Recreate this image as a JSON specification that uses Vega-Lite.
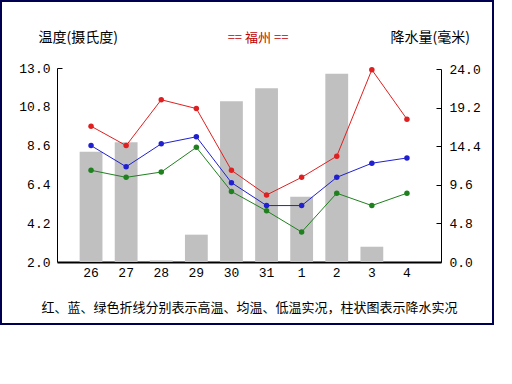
{
  "$schema": "https://vega.github.io/schema/vega-lite/v6.json",
  "width": 492,
  "height": 323,
  "autosize": "none",
  "padding": {"left": 1, "top": 1, "right": 19, "bottom": 60},
  "background": "white",
  "config": {
    "view": {"stroke": "#000050", "strokeWidth": 2},
    "axis": {"labelFont": "Liberation Mono", "labelFontSize": 13, "labelColor": "black", "grid": false, "domainColor": "black", "tickColor": "black", "titleFont": "Noto Sans CJK SC", "titleFontSize": 14, "titleFontWeight": "normal", "titleColor": "black"}
  },
  "title": {"text": "==  福州  ==", "orient": "top", "anchor": "middle", "frame": "group", "dx": 11, "offset": -44, "font": "Noto Sans CJK SC", "fontSize": 13, "fontWeight": "normal", "color": "#c00000"},
  "data": {"values": [
    {"d": "26", "high": 9.7, "avg": 8.6, "low": 7.2, "rain": 13.7},
    {"d": "27", "high": 8.6, "avg": 7.4, "low": 6.8, "rain": 14.9},
    {"d": "28", "high": 11.2, "avg": 8.7, "low": 7.1, "rain": 0.2},
    {"d": "29", "high": 10.7, "avg": 9.1, "low": 8.5, "rain": 3.4},
    {"d": "30", "high": 7.2, "avg": 6.5, "low": 6.0, "rain": 20.0},
    {"d": "31", "high": 5.8, "avg": 5.2, "low": 4.9, "rain": 21.6},
    {"d": "1", "high": 6.8, "avg": 5.2, "low": 3.7, "rain": 8.1},
    {"d": "2", "high": 8.0, "avg": 6.8, "low": 5.9, "rain": 23.4},
    {"d": "3", "high": 12.9, "avg": 7.6, "low": 5.2, "rain": 1.9},
    {"d": "4", "high": 10.1, "avg": 7.9, "low": 5.9, "rain": 0}
  ]},
  "encoding": {
    "x": {"field": "d", "type": "ordinal", "sort": null,
      "scale": {"range": [56, 440], "paddingInner": 0.35, "paddingOuter": 0.645},
      "axis": {"orient": "bottom", "offset": -62, "labelAngle": 0, "labelDx": 9, "labelPadding": 4, "ticks": false, "domainWidth": 2,
        "title": "红、蓝、绿色折线分别表示高温、均温、低温实况，柱状图表示降水实况", "titleFontSize": 13, "titleY": 45, "titleBaseline": "middle"}}
  },
  "layer": [
    {
      "mark": {"type": "bar", "color": "#c0c0c0"},
      "encoding": {
        "y": {"field": "rain", "type": "quantitative",
          "scale": {"domain": [0, 24], "range": [261, 68], "nice": false, "zero": false},
          "axis": {"orient": "right", "offset": -52, "values": [0, 4.8, 9.6, 14.4, 19.2, 24], "format": ".1f", "tickSize": -5, "labelPadding": 13,
            "title": "降水量(毫米)", "titleAngle": 0, "titleAlign": "left", "titleBaseline": "middle", "titleX": -51, "titleY": 36}}
      }
    },
    {
      "transform": [{"fold": ["high", "avg", "low"], "as": ["series", "temp"]}],
      "encoding": {
        "y": {"field": "temp", "type": "quantitative",
          "scale": {"domain": [2, 13], "range": [261, 67], "nice": false, "zero": false},
          "axis": {"orient": "left", "offset": -56, "values": [2, 4.2, 6.4, 8.6, 10.8, 13], "format": ".1f", "tickSize": -5, "labelPadding": 12,
            "tickOpacity": {"condition": {"test": "datum.value == 13", "value": 1}, "value": 0},
            "title": "温度(摄氏度)", "titleAngle": 0, "titleAlign": "left", "titleBaseline": "middle", "titleX": -19, "titleY": 36}},
        "color": {"field": "series", "type": "nominal", "scale": {"domain": ["high", "avg", "low"], "range": ["#e02020", "#2020d0", "#208020"]}, "legend": null}
      },
      "layer": [
        {"mark": {"type": "line", "strokeWidth": 1}},
        {"mark": {"type": "point", "filled": true, "size": 30, "opacity": 1}}
      ]
    }
  ],
  "resolve": {"scale": {"y": "independent"}}
}
